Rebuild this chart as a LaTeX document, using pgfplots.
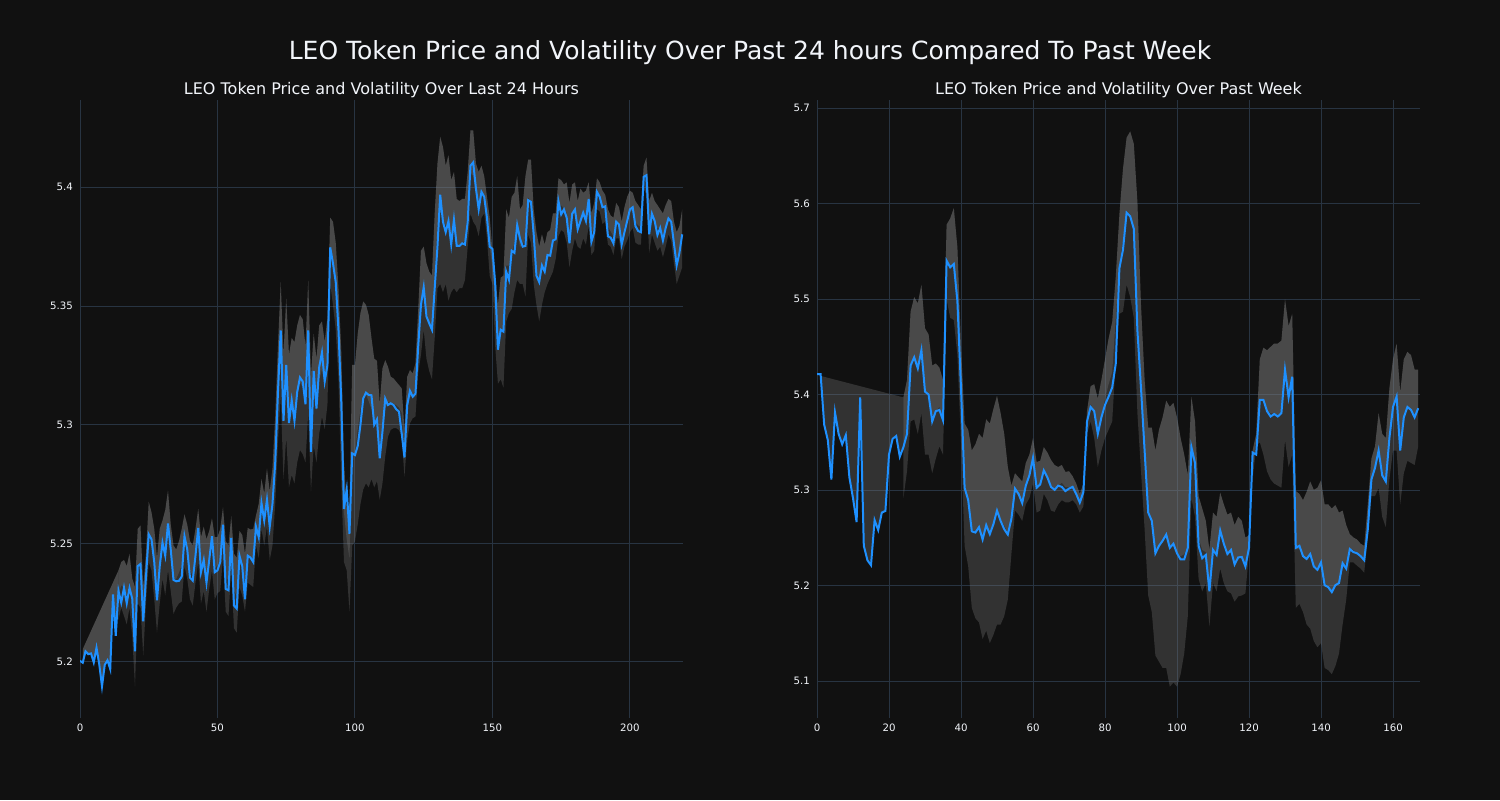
\documentclass[border=0pt]{standalone}
\usepackage{fontspec}
\setmainfont{DejaVu Sans}
\usepackage{xcolor}
\usepackage{pgfplots}
\usepackage{pgfplotstable}
\pgfplotsset{compat=1.18}
\usepgfplotslibrary{fillbetween}
\definecolor{bgc}{HTML}{111111}
\definecolor{gridc}{HTML}{283442}
\definecolor{txt}{HTML}{F2F5FA}
\definecolor{lineblue}{HTML}{1E90FF}
\definecolor{bandc}{HTML}{808080}
\pagecolor{bgc}

\pgfplotstableread{
x y
0 5.2005
1 5.1997
2 5.2045
3 5.2033
4 5.2036
5 5.1998
6 5.2060
7 5.1990
8 5.1897
9 5.1988
10 5.2007
11 5.1970
12 5.2285
13 5.2110
14 5.2300
15 5.2250
16 5.2313
17 5.2247
18 5.2313
19 5.2267
20 5.2045
21 5.2404
22 5.2413
23 5.2171
24 5.2360
25 5.2538
26 5.2517
27 5.2421
28 5.2260
29 5.2404
30 5.2503
31 5.2448
32 5.2584
33 5.2474
34 5.2346
35 5.2340
36 5.2342
37 5.2360
38 5.2530
39 5.2474
40 5.2355
41 5.2343
42 5.2448
43 5.2565
44 5.2378
45 5.2430
46 5.2334
47 5.2430
48 5.2530
49 5.2378
50 5.2386
51 5.2421
52 5.2579
53 5.2308
54 5.2302
55 5.2523
56 5.2238
57 5.2225
58 5.2448
59 5.2404
60 5.2264
61 5.2448
62 5.2440
63 5.2421
64 5.2570
65 5.2526
66 5.2670
67 5.2596
68 5.2684
69 5.2570
70 5.2666
71 5.2840
72 5.3138
73 5.3397
74 5.3016
75 5.3252
76 5.3007
77 5.3103
78 5.3016
79 5.3138
80 5.3199
81 5.3182
82 5.3086
83 5.3397
84 5.2885
85 5.3226
86 5.3068
87 5.3243
88 5.3304
89 5.3182
90 5.3252
91 5.3747
92 5.3680
93 5.3601
94 5.3400
95 5.3103
96 5.2645
97 5.2727
98 5.2540
99 5.2879
100 5.2872
101 5.2910
102 5.3000
103 5.3110
104 5.3135
105 5.3125
106 5.3124
107 5.3000
108 5.3022
109 5.2858
110 5.2970
111 5.3110
112 5.3083
113 5.3090
114 5.3083
115 5.3065
116 5.3055
117 5.2963
118 5.2862
119 5.3083
120 5.3143
121 5.3118
122 5.3130
123 5.3330
124 5.3505
125 5.3579
126 5.3456
127 5.3427
128 5.3400
129 5.3575
130 5.3750
131 5.3969
132 5.3855
133 5.3811
134 5.3858
135 5.3759
136 5.3864
137 5.3753
138 5.3753
139 5.3764
140 5.3759
141 5.3855
142 5.4091
143 5.4105
144 5.3995
145 5.3907
146 5.3981
147 5.3960
148 5.3872
149 5.3750
150 5.3741
151 5.3593
152 5.3316
153 5.3400
154 5.3392
155 5.3645
156 5.3610
157 5.3733
158 5.3724
159 5.3841
160 5.3785
161 5.3750
162 5.3753
163 5.3946
164 5.3939
165 5.3802
166 5.3628
167 5.3601
168 5.3671
169 5.3645
170 5.3715
171 5.3712
172 5.3776
173 5.3781
174 5.3942
175 5.3886
176 5.3907
177 5.3872
178 5.3764
179 5.3889
180 5.3907
181 5.3823
182 5.3858
183 5.3893
184 5.3858
185 5.3951
186 5.3771
187 5.3811
188 5.3981
189 5.3960
190 5.3916
191 5.3920
192 5.3794
193 5.3788
194 5.3764
195 5.3855
196 5.3844
197 5.3759
198 5.3811
199 5.3858
200 5.3907
201 5.3916
202 5.3837
203 5.3816
204 5.3811
205 5.4044
206 5.4051
207 5.3802
208 5.3889
209 5.3858
210 5.3799
211 5.3829
212 5.3776
213 5.3829
214 5.3869
215 5.3855
216 5.3764
217 5.3671
218 5.3724
219 5.3802
}\leftP

\pgfplotstableread{
x U L
14 5.2386 5.2177
15 5.2421 5.2229
16 5.2430 5.2194
17 5.2404 5.2159
18 5.2456 5.2229
19 5.2351 5.2107
20 5.2316 5.1897
21 5.2561 5.2247
22 5.2575 5.2229
23 5.2316 5.2028
24 5.2456 5.2247
25 5.2675 5.2421
26 5.2631 5.2386
27 5.2561 5.2264
28 5.2439 5.2124
29 5.2561 5.2247
30 5.2596 5.2351
31 5.2640 5.2281
32 5.2722 5.2386
33 5.2579 5.2299
34 5.2491 5.2203
35 5.2474 5.2229
36 5.2509 5.2247
37 5.2561 5.2255
38 5.2622 5.2404
39 5.2579 5.2351
40 5.2509 5.2264
41 5.2491 5.2238
42 5.2561 5.2334
43 5.2645 5.2421
44 5.2526 5.2247
45 5.2570 5.2299
46 5.2517 5.2212
47 5.2552 5.2308
48 5.2605 5.2386
49 5.2526 5.2264
50 5.2526 5.2290
51 5.2561 5.2299
52 5.2652 5.2439
53 5.2509 5.2212
54 5.2491 5.2194
55 5.2614 5.2386
56 5.2456 5.2142
57 5.2439 5.2124
58 5.2552 5.2316
59 5.2535 5.2281
60 5.2456 5.2212
61 5.2565 5.2334
62 5.2558 5.2325
63 5.2561 5.2316
64 5.2617 5.2491
65 5.2666 5.2439
66 5.2771 5.2561
67 5.2710 5.2491
68 5.2815 5.2570
69 5.2719 5.2430
70 5.2815 5.2491
71 5.3033 5.2666
72 5.3330 5.2928
73 5.3601 5.3121
74 5.3295 5.2771
75 5.3531 5.2946
76 5.3295 5.2736
77 5.3365 5.2788
78 5.3348 5.2753
79 5.3418 5.2841
80 5.3462 5.2893
81 5.3444 5.2876
82 5.3330 5.2841
83 5.3607 5.3051
84 5.3208 5.2719
85 5.3383 5.2911
86 5.3278 5.2841
87 5.3418 5.2963
88 5.3435 5.3033
89 5.3348 5.2981
90 5.3453 5.3086
91 5.3872 5.3593
92 5.3855 5.3505
93 5.3767 5.3400
94 5.3575 5.3191
95 5.3313 5.2771
96 5.2841 5.2421
97 5.2649 5.2386
98 5.2666 5.2212
99 5.3252 5.2491
100 5.3252 5.2509
101 5.3383 5.2579
102 5.3470 5.2666
103 5.3519 5.2727
104 5.3505 5.2753
105 5.3462 5.2736
106 5.3365 5.2771
107 5.3278 5.2736
108 5.3269 5.2762
109 5.3086 5.2684
110 5.3237 5.2753
111 5.3272 5.2865
112 5.3244 5.2949
113 5.3202 5.2978
114 5.3195 5.2985
115 5.3181 5.2985
116 5.3167 5.2978
117 5.3153 5.2949
118 5.2978 5.2781
119 5.3202 5.2935
120 5.3230 5.3006
121 5.3216 5.3027
122 5.3258 5.3034
123 5.3483 5.3216
124 5.3733 5.3295
125 5.3750 5.3400
126 5.3680 5.3278
127 5.3645 5.3226
128 5.3628 5.3191
129 5.3890 5.3365
130 5.4100 5.3575
131 5.4213 5.3593
132 5.4170 5.3558
133 5.4091 5.3593
134 5.4135 5.3523
135 5.4030 5.3558
136 5.4065 5.3575
137 5.3951 5.3558
138 5.3942 5.3575
139 5.3951 5.3575
140 5.3951 5.3610
141 5.4065 5.3750
142 5.4240 5.3890
143 5.4240 5.3855
144 5.4100 5.3837
145 5.4065 5.3794
146 5.4091 5.3872
147 5.4047 5.3890
148 5.3960 5.3785
149 5.3872 5.3628
150 5.3733 5.3593
151 5.3628 5.3330
152 5.3505 5.3173
153 5.3619 5.3191
154 5.3628 5.3156
155 5.3907 5.3435
156 5.3872 5.3470
157 5.3960 5.3488
158 5.3977 5.3558
159 5.4047 5.3610
160 5.3907 5.3593
161 5.3925 5.3593
162 5.4047 5.3540
163 5.4117 5.3802
164 5.4117 5.3767
165 5.3907 5.3593
166 5.3811 5.3505
167 5.3750 5.3435
168 5.3802 5.3505
169 5.3759 5.3558
170 5.3811 5.3593
171 5.3820 5.3619
172 5.3890 5.3645
173 5.3890 5.3698
174 5.4038 5.3794
175 5.4030 5.3820
176 5.4012 5.3811
177 5.4021 5.3767
178 5.3934 5.3663
179 5.4012 5.3733
180 5.4021 5.3785
181 5.3942 5.3750
182 5.3995 5.3741
183 5.3977 5.3785
184 5.3986 5.3759
185 5.4021 5.3837
186 5.3890 5.3715
187 5.3934 5.3733
188 5.4038 5.3907
189 5.4021 5.3899
190 5.3986 5.3846
191 5.3969 5.3855
192 5.3907 5.3759
193 5.3881 5.3750
194 5.3872 5.3715
195 5.3934 5.3785
196 5.3916 5.3785
197 5.3855 5.3698
198 5.3916 5.3750
199 5.3960 5.3776
200 5.3986 5.3811
201 5.3977 5.3829
202 5.3942 5.3767
203 5.3925 5.3759
204 5.3907 5.3759
205 5.4091 5.3995
206 5.4126 5.3969
207 5.3942 5.3724
208 5.3977 5.3802
209 5.3942 5.3767
210 5.3925 5.3733
211 5.3907 5.3750
212 5.3890 5.3706
213 5.3925 5.3750
214 5.3951 5.3802
215 5.3942 5.3776
216 5.3855 5.3680
217 5.3811 5.3593
218 5.3837 5.3628
219 5.3907 5.3663
}\leftB

\pgfplotstableread{
x y
0 5.4213
1 5.4213
2 5.3683
3 5.3523
4 5.3111
5 5.3813
6 5.3588
7 5.3479
8 5.3575
9 5.3132
10 5.2915
11 5.2664
12 5.3970
13 5.2416
14 5.2265
15 5.2213
16 5.2685
17 5.2581
18 5.2764
19 5.2781
20 5.3371
21 5.3536
22 5.3566
23 5.3349
24 5.3449
25 5.3588
26 5.4304
27 5.4390
28 5.4273
29 5.4464
30 5.4030
31 5.4000
32 5.3718
33 5.3826
34 5.3839
35 5.3731
36 5.5401
37 5.5332
38 5.5367
39 5.4976
40 5.4065
41 5.3024
42 5.2894
43 5.2568
44 5.2555
45 5.2612
46 5.2482
47 5.2633
48 5.2538
49 5.2642
50 5.2785
51 5.2677
52 5.2590
53 5.2534
54 5.2698
55 5.3015
56 5.2959
57 5.2863
58 5.3046
59 5.3154
60 5.3336
61 5.3024
62 5.3059
63 5.3206
64 5.3132
65 5.3033
66 5.3002
67 5.3046
68 5.3033
69 5.2989
70 5.3015
71 5.3033
72 5.2959
73 5.2868
74 5.2980
75 5.3718
76 5.3870
77 5.3826
78 5.3588
79 5.3761
80 5.3892
81 5.3978
82 5.4074
83 5.4325
84 5.5323
85 5.5518
86 5.5905
87 5.5866
88 5.5735
89 5.4672
90 5.4065
91 5.3414
92 5.2764
93 5.2677
94 5.2338
95 5.2416
96 5.2469
97 5.2534
98 5.2395
99 5.2438
100 5.2338
101 5.2273
102 5.2273
103 5.2395
104 5.3449
105 5.3284
106 5.2416
107 5.2286
108 5.2321
109 5.1939
110 5.2373
111 5.2321
112 5.2577
113 5.2438
114 5.2330
115 5.2373
116 5.2221
117 5.2295
118 5.2299
119 5.2200
120 5.2395
121 5.3393
122 5.3371
123 5.3944
124 5.3944
125 5.3826
126 5.3770
127 5.3796
128 5.3770
129 5.3805
130 5.4260
131 5.3970
132 5.4187
133 5.2395
134 5.2416
135 5.2308
136 5.2278
137 5.2330
138 5.2200
139 5.2165
140 5.2243
141 5.2004
142 5.1983
143 5.1931
144 5.2004
145 5.2026
146 5.2234
147 5.2178
148 5.2382
149 5.2351
150 5.2338
151 5.2308
152 5.2265
153 5.2590
154 5.3111
155 5.3232
156 5.3414
157 5.3154
158 5.3089
159 5.3544
160 5.3870
161 5.3978
162 5.3414
163 5.3761
164 5.3870
165 5.3839
166 5.3761
167 5.3857
}\rightP

\pgfplotstableread{
x U L
24 5.3970 5.2915
25 5.4152 5.3197
26 5.4868 5.3718
27 5.5020 5.3740
28 5.4954 5.3588
29 5.5150 5.3805
30 5.4694 5.3371
31 5.4629 5.3371
32 5.4304 5.3176
33 5.4325 5.3328
34 5.4282 5.3458
35 5.4152 5.3371
36 5.5779 5.4998
37 5.5844 5.4803
38 5.5952 5.4781
39 5.5540 5.4412
40 5.4499 5.3501
41 5.3696 5.2416
42 5.3631 5.2200
43 5.3414 5.1766
44 5.3479 5.1657
45 5.3588 5.1614
46 5.3544 5.1440
47 5.3740 5.1527
48 5.3696 5.1397
49 5.3848 5.1484
50 5.3987 5.1592
51 5.3805 5.1592
52 5.3588 5.1679
53 5.3241 5.1853
54 5.3046 5.2330
55 5.3176 5.2785
56 5.3132 5.2742
57 5.3089 5.2677
58 5.3284 5.2850
59 5.3371 5.2915
60 5.3544 5.3067
61 5.3293 5.2764
62 5.3306 5.2785
63 5.3449 5.2959
64 5.3393 5.2894
65 5.3315 5.2785
66 5.3262 5.2772
67 5.3241 5.2850
68 5.3262 5.2894
69 5.3189 5.2872
70 5.3197 5.2872
71 5.3145 5.2894
72 5.3067 5.2850
73 5.2959 5.2764
74 5.3067 5.2829
75 5.3826 5.3588
76 5.4087 5.3718
77 5.4108 5.3544
78 5.3957 5.3241
79 5.4152 5.3414
80 5.4369 5.3544
81 5.4586 5.3631
82 5.4759 5.3718
83 5.5236 5.4369
84 5.5887 5.4846
85 5.6364 5.4868
86 5.6690 5.5150
87 5.6755 5.5020
88 5.6625 5.4803
89 5.6017 5.3805
90 5.4933 5.3197
91 5.4152 5.2590
92 5.3653 5.1896
93 5.3653 5.1722
94 5.3414 5.1267
95 5.3631 5.1202
96 5.3761 5.1137
97 5.3935 5.1137
98 5.3870 5.0941
99 5.3913 5.0985
100 5.3761 5.0941
101 5.3544 5.1072
102 5.3371 5.1288
103 5.3154 5.1679
104 5.3978 5.2915
105 5.3718 5.2720
106 5.2937 5.2069
107 5.2807 5.1939
108 5.2677 5.2026
109 5.2373 5.1570
110 5.2764 5.2026
111 5.2720 5.1939
112 5.2972 5.2178
113 5.2850 5.2026
114 5.2742 5.1939
115 5.2764 5.1918
116 5.2633 5.1831
117 5.2720 5.1887
118 5.2677 5.1896
119 5.2503 5.1918
120 5.2525 5.2351
121 5.3414 5.3111
122 5.3588 5.3458
123 5.4369 5.3501
124 5.4490 5.3371
125 5.4464 5.3197
126 5.4499 5.3111
127 5.4534 5.3067
128 5.4534 5.3046
129 5.4564 5.3024
130 5.4998 5.3523
131 5.4716 5.3241
132 5.4846 5.3371
133 5.2989 5.1766
134 5.2959 5.1809
135 5.2894 5.1722
136 5.2980 5.1592
137 5.3089 5.1549
138 5.3002 5.1419
139 5.3024 5.1354
140 5.3102 5.1397
141 5.2850 5.1137
142 5.2850 5.1115
143 5.2807 5.1072
144 5.2842 5.1158
145 5.2764 5.1288
146 5.2785 5.1592
147 5.2633 5.1853
148 5.2538 5.2243
149 5.2503 5.2243
150 5.2482 5.2208
151 5.2438 5.2178
152 5.2416 5.2135
153 5.2850 5.2503
154 5.3328 5.2937
155 5.3458 5.2937
156 5.3805 5.3024
157 5.3588 5.2720
158 5.3544 5.2612
159 5.4065 5.3111
160 5.4369 5.3414
161 5.4534 5.3414
162 5.4022 5.2850
163 5.4369 5.3176
164 5.4447 5.3306
165 5.4412 5.3284
166 5.4260 5.3262
167 5.4260 5.3458
}\rightB

\pgfplotsset{
  panel/.style={
    scale only axis, width=301.5pt, height=309pt, anchor=south west,
    axis line style={draw=none}, grid=major,
    major grid style={draw=gridc, line width=0.5pt},
    major tick length=0pt,
    ticklabel style={font=\fontsize{5.1}{6}\selectfont, text=txt},
    yticklabel style={xshift=0pt},
    xticklabel style={yshift=0.5pt},
  },
  band/.style={fill=bandc, fill opacity=0.3, draw=none},
}

\begin{document}
\begin{tikzpicture}
\path (0,0) rectangle (750pt,400pt);
\node[font=\fontsize{12.5}{14}\selectfont, text=txt] at (375pt,373.5pt) {LEO Token Price and Volatility Over Past 24 hours Compared To Past Week};
\node[font=\fontsize{8}{9.5}\selectfont, text=txt] at (190.75pt,355pt) {LEO Token Price and Volatility Over Last 24 Hours};
\node[font=\fontsize{8}{9.5}\selectfont, text=txt] at (559.25pt,355pt) {LEO Token Price and Volatility Over Past Week};

\begin{axis}[panel, at={(40pt,41pt)},
  xmin=0, xmax=219.3, ymin=5.1764, ymax=5.4368,
  xtick={0,50,100,150,200}, xticklabels={0,50,100,150,200},
  ytick={5.2,5.25,5.3,5.35,5.4}, yticklabels={5.2,5.25,5.3,5.35,5.4}]
  \addplot[draw=none, name path=lu] table[x=x, y=U] {\leftB};
  \addplot[draw=none, name path=ll] table[x=x, y=L] {\leftB};
  \addplot[draw=none, name path=lm] table[x=x, y expr={(\thisrow{U}+\thisrow{L})/2}] {\leftB};
  \addplot[band] fill between[of=lu and ll];
  \addplot[band] fill between[of=lu and lm];
  \addplot[draw=none, name path=ls] coordinates {(1,5.2054) (14,5.2386)};
  \addplot[draw=none, name path=lp0, restrict x to domain=1:14] table[x=x, y=y] {\leftP};
  \addplot[band] fill between[of=ls and lp0];
  \addplot[band] fill between[of=ls and lp0];
  \addplot[lineblue, line width=1pt] table[x=x, y=y] {\leftP};
\end{axis}

\begin{axis}[panel, at={(408.5pt,41pt)},
  xmin=0, xmax=167.5, ymin=5.0613, ymax=5.7084,
  xtick={0,20,40,60,80,100,120,140,160}, xticklabels={0,20,40,60,80,100,120,140,160},
  ytick={5.1,5.2,5.3,5.4,5.5,5.6,5.7}, yticklabels={5.1,5.2,5.3,5.4,5.5,5.6,5.7}]
  \addplot[draw=none, name path=ru] table[x=x, y=U] {\rightB};
  \addplot[draw=none, name path=rl] table[x=x, y=L] {\rightB};
  \addplot[draw=none, name path=rm] table[x=x, y expr={(\thisrow{U}+\thisrow{L})/2}] {\rightB};
  \addplot[band] fill between[of=ru and rl];
  \addplot[band] fill between[of=ru and rm];
  \addplot[draw=none, name path=rs] coordinates {(1,5.4195) (24,5.3970)};
  \addplot[draw=none, name path=rp0, restrict x to domain=1:24] table[x=x, y=y] {\rightP};
  \addplot[band] fill between[of=rs and rp0];
  \addplot[lineblue, line width=1pt] table[x=x, y=y] {\rightP};
\end{axis}
\end{tikzpicture}
\end{document}
